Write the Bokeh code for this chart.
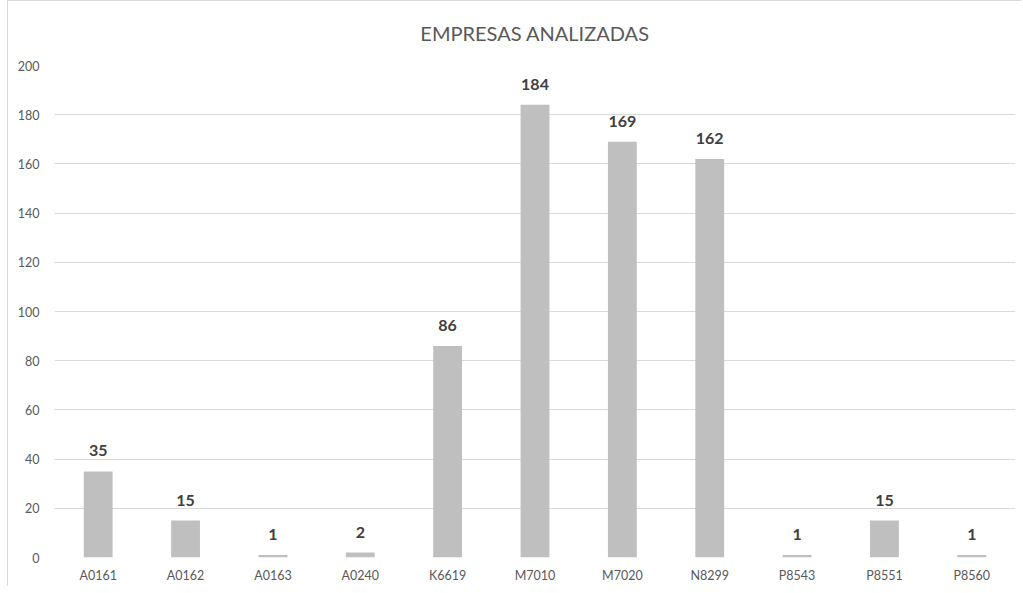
from bokeh.plotting import figure
from bokeh.models import ColumnDataSource, LabelSet, Range1d, FixedTicker
from bokeh.core.properties import value
from bokeh.embed import file_html
from bokeh.resources import INLINE

title_text = "EMPRESAS ANALIZADAS"
categories = ["A0161", "A0162", "A0163", "A0240", "K6619", "M7010",
              "M7020", "N8299", "P8543", "P8551", "P8560"]
values = [35, 15, 1, 2, 86, 184, 169, 162, 1, 15, 1]
y_ticks = [0, 20, 40, 60, 80, 100, 120, 140, 160, 180, 200]

source = ColumnDataSource(data=dict(cat=categories, val=values,
                                    lbl=[str(v) for v in values]))

p = figure(x_range=categories, y_range=Range1d(0, 200),
           width=1014, height=586, output_backend="svg", toolbar_location=None,
           min_border_left=46, min_border_right=7, min_border_bottom=30,
           min_border_top=64)

p.title.text = title_text
p.title.align = "center"
p.title.vertical_align = "top"
p.title.text_font = "Lato"
p.title.text_font_size = "20px"
p.title.text_font_style = "normal"
p.title.text_color = "#595959"
p.title.offset = 0
p.title.standoff = 38

p.vbar(x="cat", top="val", width=0.33, source=source,
       fill_color="#bfbfbf", line_color=None)

labels = LabelSet(x="cat", y="val", text="lbl", source=source,
                  text_align="center", text_baseline="bottom", y_offset=15,
                  text_font=value("Lato"), text_font_size="16px",
                  text_font_style="bold", text_color="#404040")
p.add_layout(labels)

p.yaxis.ticker = FixedTicker(ticks=y_ticks)
for ax in (p.xaxis[0], p.yaxis[0]):
    ax.axis_line_color = None
    ax.major_tick_line_color = None
    ax.minor_tick_line_color = None
    ax.major_tick_out = 0
    ax.major_tick_in = 0
    ax.minor_tick_out = 0
    ax.minor_tick_in = 0
    ax.major_label_text_font = "Lato"
    ax.major_label_text_font_size = "12.5px"
    ax.major_label_text_color = "#595959"
p.yaxis.major_label_standoff = 15
p.xaxis.major_label_standoff = 10

p.xgrid.grid_line_color = None
p.ygrid.grid_line_color = "#d9d9d9"
p.ygrid.grid_line_width = 1
p.outline_line_color = None
p.background_fill_color = "white"
p.border_fill_color = "white"
p.styles = {"margin-left": "7px", "margin-top": "0px",
            "border-left": "1px solid #d9d9d9", "border-top": "1px solid #d9d9d9"}

open("out.html", "w").write(file_html(p, INLINE))
